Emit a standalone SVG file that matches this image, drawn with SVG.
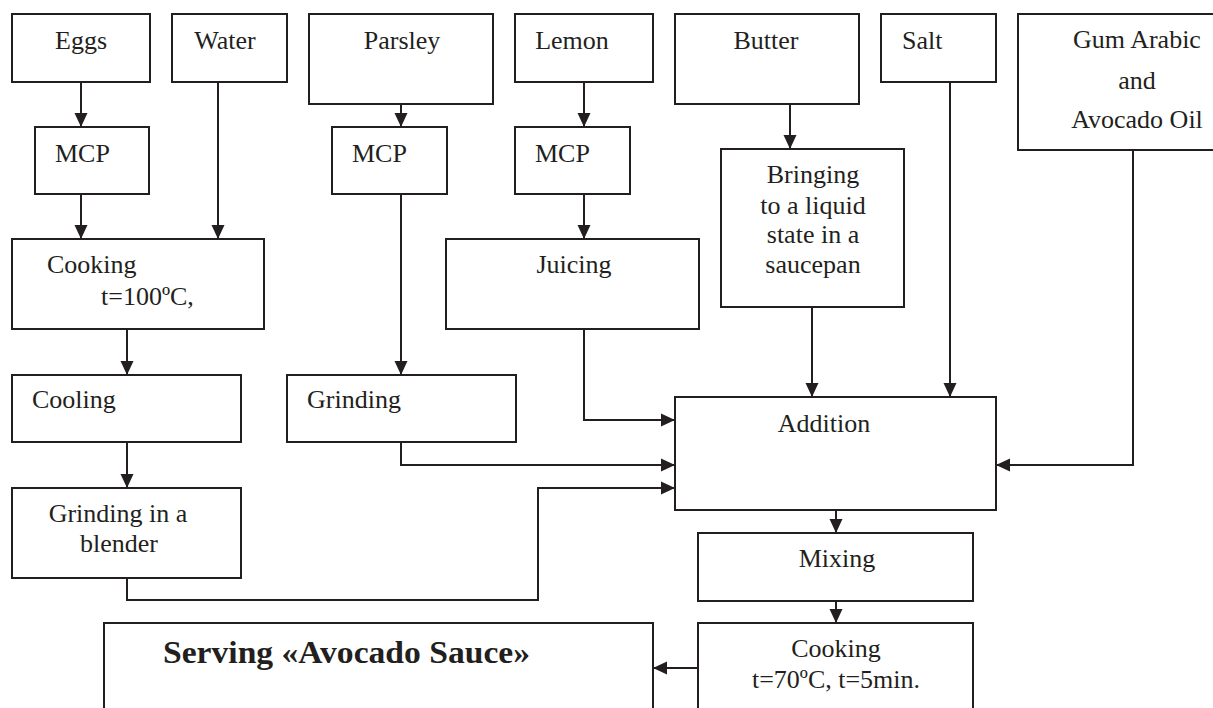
<svg xmlns="http://www.w3.org/2000/svg" width="1213" height="708" viewBox="0 0 1213 708">
<style>
.box{fill:#fff;stroke:#231f20;stroke-width:2}
.t{font-family:"Liberation Serif","Times New Roman",serif;font-size:26px;fill:#231f20}
.c{text-anchor:middle}
.b{font-weight:bold;font-size:31px}
.ln{fill:none;stroke:#231f20;stroke-width:2}
</style>
<defs>
<marker id="ah" markerUnits="userSpaceOnUse" markerWidth="15" markerHeight="14" refX="14" refY="7" orient="auto">
<path d="M0,0.5 L14,7 L0,13.5 z" fill="#231f20"/>
</marker>
</defs>
<rect width="1213" height="708" fill="#fff"/>
<g id="connectors">
<path class="ln" marker-end="url(#ah)" d="M81,82 V127"/>
<path class="ln" marker-end="url(#ah)" d="M81,194 V239"/>
<path class="ln" marker-end="url(#ah)" d="M218,82 V239"/>
<path class="ln" marker-end="url(#ah)" d="M401,104 V127"/>
<path class="ln" marker-end="url(#ah)" d="M401,194 V375"/>
<path class="ln" marker-end="url(#ah)" d="M584,82 V127"/>
<path class="ln" marker-end="url(#ah)" d="M584,194 V239"/>
<path class="ln" marker-end="url(#ah)" d="M790,104 V149"/>
<path class="ln" marker-end="url(#ah)" d="M812,307 V397"/>
<path class="ln" marker-end="url(#ah)" d="M950,82 V397"/>
<path class="ln" marker-end="url(#ah)" d="M1133,150 V465 H996"/>
<path class="ln" marker-end="url(#ah)" d="M584,329 V420 H675"/>
<path class="ln" marker-end="url(#ah)" d="M401,442 V465 H675"/>
<path class="ln" marker-end="url(#ah)" d="M127,329 V375"/>
<path class="ln" marker-end="url(#ah)" d="M127,442 V488"/>
<path class="ln" marker-end="url(#ah)" d="M127,578 V600 H538 V488 H675"/>
<path class="ln" marker-end="url(#ah)" d="M836,510 V533"/>
<path class="ln" marker-end="url(#ah)" d="M836,601 V623"/>
<path class="ln" marker-end="url(#ah)" d="M698,668 H653"/>
</g>
<g id="eggs"><rect class="box" x="12" y="14" width="138" height="68"/><text class="t c" x="81" y="49">Eggs</text></g>
<g id="water"><rect class="box" x="172" y="14" width="115" height="68"/><text class="t c" x="225" y="49">Water</text></g>
<g id="parsley"><rect class="box" x="309" y="14" width="184" height="90"/><text class="t c" x="402" y="49">Parsley</text></g>
<g id="lemon"><rect class="box" x="515" y="14" width="138" height="68"/><text class="t c" x="572" y="49">Lemon</text></g>
<g id="butter"><rect class="box" x="675" y="14" width="184" height="90"/><text class="t c" x="766" y="49">Butter</text></g>
<g id="salt"><rect class="box" x="881" y="14" width="115" height="68"/><text class="t" x="902" y="49">Salt</text></g>
<g id="gum"><rect class="box" x="1018" y="14" width="205" height="136"/><text class="t c" x="1137" y="48">Gum Arabic</text><text class="t c" x="1137" y="89">and</text><text class="t c" x="1137" y="128">Avocado Oil</text></g>
<g id="mcp1"><rect class="box" x="35" y="127" width="114" height="67"/><text class="t" x="55" y="162">MCP</text></g>
<g id="mcp2"><rect class="box" x="332" y="127" width="115" height="67"/><text class="t" x="352" y="162">MCP</text></g>
<g id="mcp3"><rect class="box" x="515" y="127" width="115" height="67"/><text class="t" x="535" y="162">MCP</text></g>
<g id="bringing"><rect class="box" x="721" y="149" width="183" height="158"/><text class="t c" x="813" y="183">Bringing</text><text class="t c" x="813" y="214">to a liquid</text><text class="t c" x="813" y="243">state in a</text><text class="t c" x="813" y="273">saucepan</text></g>
<g id="cooking1"><rect class="box" x="12" y="239" width="252" height="90"/><text class="t" x="47" y="273">Cooking</text><text class="t" x="101" y="305">t=100ºC,</text></g>
<g id="juicing"><rect class="box" x="446" y="239" width="253" height="90"/><text class="t c" x="574" y="273">Juicing</text></g>
<g id="cooling"><rect class="box" x="12" y="375" width="229" height="67"/><text class="t" x="32" y="408">Cooling</text></g>
<g id="grinding"><rect class="box" x="287" y="375" width="229" height="67"/><text class="t" x="307" y="408">Grinding</text></g>
<g id="addition"><rect class="box" x="675" y="397" width="321" height="113"/><text class="t c" x="824" y="432">Addition</text></g>
<g id="blender"><rect class="box" x="12" y="488" width="229" height="90"/><text class="t c" x="118" y="522">Grinding in a</text><text class="t c" x="119" y="552">blender</text></g>
<g id="mixing"><rect class="box" x="698" y="533" width="275" height="68"/><text class="t c" x="837" y="567">Mixing</text></g>
<g id="cooking2"><rect class="box" x="698" y="623" width="275" height="100"/><text class="t c" x="836" y="657">Cooking</text><text class="t c" x="836" y="688">t=70ºC, t=5min.</text></g>
<g id="serving"><rect class="box" x="104" y="623" width="549" height="100"/><text class="t b" x="163" y="663" textLength="367" lengthAdjust="spacingAndGlyphs">Serving «Avocado Sauce»</text></g>
</svg>
